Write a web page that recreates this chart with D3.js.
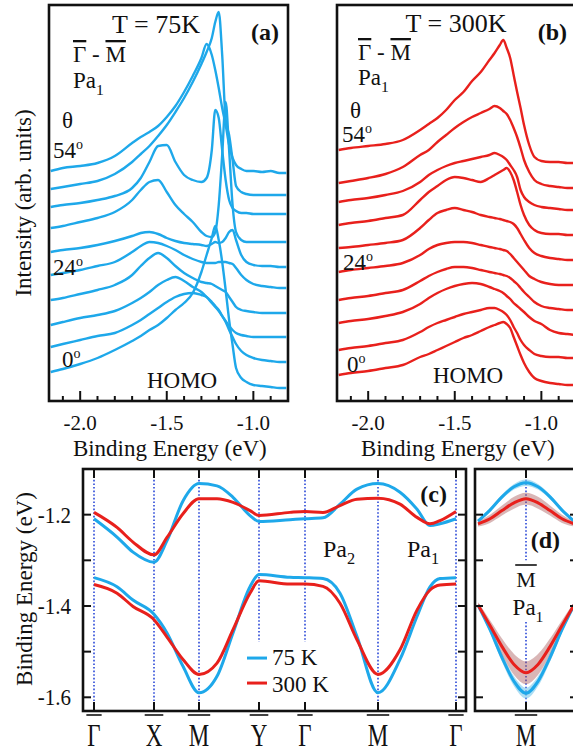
<!DOCTYPE html>
<html><head><meta charset="utf-8">
<script src="https://cdn.jsdelivr.net/npm/d3@7"></script>
<style>
body{margin:0;background:#fff;}
svg{display:block;}
svg text{font-family:"Liberation Serif","Times New Roman","DejaVu Serif",serif;fill:#111;}
</style></head><body>
<svg id="chart" width="573" height="755"></svg>
<script>
// ---------------- DATA ----------------
const energyGrid = [-2.17,-2.1,-2.0,-1.9,-1.8,-1.7,-1.65,-1.6,-1.55,-1.5,-1.45,-1.4,-1.35,-1.3,-1.27,-1.24,-1.22,-1.2,-1.18,-1.16,-1.14,-1.12,-1.1,-1.07,-1.04,-1.0,-0.95,-0.9,-0.85,-0.81];
const angles = [0,6,12,18,24,30,36,42,48,54];
// EDC intensities (arb. units, stacked offsets included), T = 75 K, one row per angle
const edc75K = [
 [28,31,36,42,50,59,64,70,75,82,90,97,107,128,145,162,174,160,138,110,80,55,32,22,18,15,14,13,12,12],
 [53,56,60,64,67,75,80,86,92,98,103,106,107,105,103,98,94,90,84,78,70,63,56,49,45,42,40,39,38,38],
 [75,78,82,85,89,97,102,108,115,120,123,119,113,108,103,97,93,89,84,79,74,70,67,65,64,63,63,63,63,63],
 [100,102,106,110,115,125,134,142,147,142,134,127,122,118,117,116,114,112,110,108,103,98,93,90,89,88,87,87,87,87],
 [125,127,130,134,138,148,154,158,157,154,150,145,141,138,137,137,137,138,138,138,137,136,132,125,120,116,114,113,112,112],
 [148,150,152,155,159,164,167,168,166,162,159,157,156,155,154,156,158,157,158,162,168,170,160,145,138,135,134,134,133,133],
 [172,174,178,182,188,200,210,218,220,208,195,186,178,168,164,163,168,195,245,298,250,195,168,160,158,158,158,158,158,158],
 [193,195,197,200,204,212,222,238,254,255,238,225,220,218,222,250,290,282,250,220,200,192,189,187,187,186,186,186,186,186],
 [211,213,216,219,226,238,246,254,264,275,288,302,318,336,348,362,378,388,345,280,265,240,214,208,206,205,205,205,205,205],
 [229,232,234,237,244,257,263,268,274,283,294,308,324,342,356,345,330,312,292,275,255,242,235,231,229,229,228,229,227,227]
];
// EDC intensities, T = 300 K
const edc300K = [
 [25,27,29,32,35,43,46,50,54,58,62,65,69,73,75,77,78,76,72,63,54,45,37,28,22,19,17,16,15,15],
 [50,52,54,57,60,68,73,77,80,83,86,88,90,92,92,90,88,85,80,73,67,60,55,50,46,44,43,43,42,42],
 [77,79,81,84,88,96,102,107,111,114,116,117,116,113,111,109,107,104,101,97,94,91,88,83,79,76,70,67,66,65],
 [100,102,104,107,110,119,124,128,131,133,133,132,130,128,127,126,125,124,122,119,116,112,108,103,98,94,92,91,90,90],
 [128,130,132,134,137,145,151,155,157,158,158,157,155,153,152,151,150,149,146,142,138,134,130,124,121,118,116,115,115,115],
 [152,153,155,157,160,172,180,187,190,192,190,188,185,183,182,181,180,179,178,176,172,166,160,152,147,144,142,141,140,140],
 [175,177,179,182,185,200,208,214,220,223,222,220,218,222,225,228,230,232,228,220,208,195,185,175,170,167,166,166,165,165],
 [198,200,202,205,209,218,225,230,234,237,239,241,243,245,247,245,243,240,235,230,223,210,203,198,195,193,192,191,190,190],
 [217,219,222,226,233,245,250,258,265,272,278,283,287,291,294,292,289,286,280,272,263,252,240,228,220,216,214,213,212,212],
 [250,252,254,256,260,270,276,282,290,300,308,319,328,340,347,355,360,352,342,325,308,292,275,255,243,239,238,238,237,237]
];
const energyMajorTicks = [-2.0,-1.5,-1.0];
const energyMinorTicks = [-2.1,-2.0,-1.9,-1.8,-1.7,-1.6,-1.5,-1.4,-1.3,-1.2,-1.1,-1.0,-0.9];

// band dispersion panel (c)
const kPointLabels = ["Γ","X","M","Y","Γ","M","Γ"];
const kPointPos = [0,0.60,1.05,1.65,2.11,2.84,3.62];
const kPath = [0,0.23,0.39,0.60,0.73,0.89,1.05,1.23,1.39,1.56,1.65,1.96,2.11,2.29,2.46,2.63,2.84,3.06,3.23,3.36,3.46,3.62];
const upper75K = [-1.209,-1.249,-1.282,-1.304,-1.257,-1.170,-1.132,-1.137,-1.162,-1.202,-1.215,-1.211,-1.209,-1.207,-1.177,-1.144,-1.132,-1.151,-1.188,-1.224,-1.220,-1.209];
const upper300K = [-1.195,-1.228,-1.260,-1.288,-1.250,-1.198,-1.165,-1.165,-1.173,-1.191,-1.202,-1.195,-1.193,-1.195,-1.180,-1.166,-1.164,-1.177,-1.206,-1.220,-1.213,-1.193];
const lower75K = [-1.338,-1.358,-1.387,-1.418,-1.459,-1.532,-1.590,-1.554,-1.459,-1.358,-1.331,-1.337,-1.338,-1.340,-1.372,-1.467,-1.590,-1.517,-1.423,-1.358,-1.340,-1.338];
const lower300K = [-1.353,-1.372,-1.401,-1.430,-1.468,-1.517,-1.550,-1.525,-1.452,-1.372,-1.345,-1.352,-1.352,-1.357,-1.394,-1.474,-1.550,-1.496,-1.409,-1.365,-1.354,-1.352];
const bindingTicks = [-1.6,-1.5,-1.4,-1.3,-1.2];
const bindingTickLabels = [-1.6,-1.4,-1.2];

// panel (d): fit around M with uncertainty
const kLocal = [-0.48,-0.36,-0.24,-0.12,0,0.12,0.24,0.36,0.48];
const dUpper75K = [-1.214,-1.190,-1.161,-1.139,-1.130,-1.139,-1.161,-1.190,-1.214];
const dUpper75KErr = [0.002,0.004,0.005,0.006,0.007,0.006,0.005,0.004,0.002];
const dUpper300K = [-1.220,-1.209,-1.191,-1.174,-1.165,-1.174,-1.191,-1.209,-1.220];
const dUpper300KErr = [0.006,0.009,0.011,0.013,0.013,0.013,0.011,0.009,0.006];
const dLower75K = [-1.398,-1.452,-1.513,-1.565,-1.591,-1.565,-1.513,-1.452,-1.398];
const dLower75KErr = [0.003,0.006,0.009,0.011,0.012,0.011,0.009,0.006,0.003];
const dLower300K = [-1.398,-1.443,-1.489,-1.528,-1.546,-1.528,-1.489,-1.443,-1.398];
const dLower300KErr = [0.006,0.012,0.018,0.023,0.025,0.023,0.018,0.012,0.006];

// ---------------- STYLE ----------------
const FONT = "Liberation Serif, Times New Roman, DejaVu Serif, serif";
const BLUE = "#1ea8ea", RED = "#e8201c", DOT = "#2a48d8";
const BLUE_BAND = "rgba(120,200,235,0.6)", RED_BAND = "rgba(165,80,80,0.42)";
const svg = d3.select("#chart");

function frame(x0,y0,x1,y1){
  svg.append("rect").attr("x",x0).attr("y",y0).attr("width",x1-x0).attr("height",y1-y0)
    .attr("fill","none").attr("stroke","#111").attr("stroke-width",2.6);
}
function txt(x,y,s,size,anchor,weight,sy){
  return svg.append("text").attr("transform",`translate(${x},${y}) scale(1,${sy||1})`)
    .attr("font-family",FONT).attr("font-size",size)
    .attr("text-anchor",anchor||"start").attr("font-weight",weight||"normal").text(s);
}
function degLabel(x,y,num){
  const t = txt(x,y,"",23,"start");
  t.append("tspan").text(num);
  t.append("tspan").attr("font-size",14).attr("dy",-9).text("o");
}
function gmLabel(x,y){
  const t = txt(x,y,"",23,"start");
  t.append("tspan").style("text-decoration","overline").text("Γ");
  t.append("tspan").text(" - ");
  t.append("tspan").style("text-decoration","overline").text("M");
}
function paLabel(x,y,sub,size,anchor){
  const t = txt(x,y,"",size||23,anchor||"start");
  t.append("tspan").text("Pa");
  t.append("tspan").attr("font-size",(size||23)*0.68).attr("dy",7).text(sub);
}
function barText(x,y,s,size,sy,gap){
  const t = txt(x,y,s,size,"middle",null,sy);
  const w = t.node().getComputedTextLength();
  svg.append("line").attr("x1",x-w/2-1).attr("x2",x+w/2+1).attr("y1",y-gap).attr("y2",y-gap)
    .attr("stroke","#111").attr("stroke-width",1.6);
}

// ---------------- PANELS (a) & (b) ----------------
function edcPanel(x0,x1,data,color,lbl,temp,L){
  const top=5, bottom=401;
  const x = d3.scaleLinear().domain([-2.18,-0.80]).range([x0,x1]);
  const y = d3.scaleLinear().domain([-1,395]).range([bottom,top]);
  const line = d3.line().x((d,i)=>x(energyGrid[i])).y(d=>y(d)).curve(d3.curveMonotoneX);
  data.forEach(row=>{
    svg.append("path").attr("d",line(row)).attr("fill","none").attr("stroke",color)
      .attr("stroke-width",2.4).attr("stroke-linejoin","round");
  });
  frame(x0,top,x1,bottom);
  energyMinorTicks.forEach(v=>{
    const major = energyMajorTicks.some(m=>Math.abs(m-v)<1e-6);
    svg.append("line").attr("x1",x(v)).attr("x2",x(v)).attr("y1",bottom).attr("y2",bottom-(major?10:5))
      .attr("stroke","#111").attr("stroke-width",2);
  });
  energyMajorTicks.forEach(v=>txt(x(v),430,v.toFixed(1),21,"middle"));
  txt(x(-1.5)+3,456,"Binding Energy (eV)",23,"middle");
  txt(x0+L.tx,L.ty,temp,26,"middle");
  txt(x0+230,40,lbl,24,"end","bold");
  gmLabel(x0+L.gx,L.gy);
  paLabel(x0+L.gx,L.py,"1");
  txt(x0+13,L.thy,"θ",23,"start");
  degLabel(x0+L.d54x,L.d54y,"54");
  degLabel(x0+L.d24x,L.d24y,"24");
  degLabel(x0+L.d0x,L.d0y,"0");
  txt(x(-1.40)+L.hx,L.hy,"HOMO",23,"middle");
}
edcPanel(49,288,edc75K,BLUE,"(a)","T = 75K",
  {tx:107,ty:33,gx:24,gy:62,py:88,thy:128,d54x:4,d54y:158,d24x:4,d24y:275,d0x:13,d0y:367,hx:-2,hy:388});
edcPanel(337,576,edc300K,RED,"(b)","T = 300K",
  {tx:119,ty:32,gx:21,gy:60,py:85,thy:118,d54x:5,d54y:142,d24x:6,d24y:270,d0x:10,d0y:372,hx:-4,hy:383});
svg.append("text").attr("transform","translate(31,203) rotate(-90)").attr("font-family",FONT).attr("font-size",23)
  .attr("text-anchor","middle").text("Intensity (arb. units)");

// ---------------- PANEL (c) ----------------
const cTop=469, cBottom=711, cL=83, cR=466;
const xc = d3.scaleLinear().domain([-0.11,3.72]).range([cL,cR]);
const yc = d3.scaleLinear().domain([-1.63,-1.10]).range([cBottom,cTop]);
const legendTop = yc(-1.479);
kPointPos.forEach((k,i)=>{
  const yEnd = (i===3||i===4) ? legendTop : cBottom;
  svg.append("line").attr("x1",xc(k)).attr("x2",xc(k)).attr("y1",cTop).attr("y2",yEnd)
    .attr("stroke",DOT).attr("stroke-width",1.6).attr("stroke-dasharray","1.6,2");
  [cTop,cBottom].forEach(yy=>{
    svg.append("line").attr("x1",xc(k)).attr("x2",xc(k)).attr("y1",yy).attr("y2",yy+(yy===cTop?9:-9))
      .attr("stroke","#111").attr("stroke-width",2);
  });
  barText(xc(k),746,kPointLabels[i],23,1.4,31);
});
const cLine = d3.line().x((d,i)=>xc(kPath[i])).y(d=>yc(d)).curve(d3.curveMonotoneX);
[[upper75K,BLUE],[lower75K,BLUE],[upper300K,RED],[lower300K,RED]].forEach(([arr,c])=>{
  svg.append("path").attr("d",cLine(arr)).attr("fill","none").attr("stroke",c).attr("stroke-width",3);
});
frame(cL,cTop,cR,cBottom);
bindingTicks.forEach(v=>{
  svg.append("line").attr("x1",cL).attr("x2",cL+8).attr("y1",yc(v)).attr("y2",yc(v)).attr("stroke","#111").attr("stroke-width",2);
  svg.append("line").attr("x1",cR).attr("x2",cR-8).attr("y1",yc(v)).attr("y2",yc(v)).attr("stroke","#111").attr("stroke-width",2);
});
bindingTickLabels.forEach(v=>txt(cL-12,yc(v)+8,v.toFixed(1),21,"end",null,1.12));
svg.append("text").attr("transform","translate(32,589) rotate(-90)").attr("font-family",FONT).attr("font-size",23)
  .attr("text-anchor","middle").text("Binding Energy (eV)");
txt(447,502,"(c)",24,"end","bold");
paLabel(323,557,"2",24);
paLabel(407,557,"1",24);
[["75 K",BLUE],["300 K",RED]].forEach(([s,c],i)=>{
  const yy = legendTop+16+i*25;
  svg.append("line").attr("x1",247).attr("x2",267).attr("y1",yy).attr("y2",yy).attr("stroke",c).attr("stroke-width",3);
  txt(272,yy+7+i*2,s,23,"start");
});

// ---------------- PANEL (d) ----------------
const dL=475, dR=578;
const xd = d3.scaleLinear().domain([-0.51,0.52]).range([dL,dR]);
const dLine = d3.line().x((d,i)=>xd(kLocal[i])).y(d=>yc(d)).curve(d3.curveMonotoneX);
const dArea = (c,e)=>d3.area().x((d,i)=>xd(kLocal[i])).y0((d,i)=>yc(c[i]-e[i])).y1((d,i)=>yc(c[i]+e[i])).curve(d3.curveMonotoneX)(c);
svg.append("line").attr("x1",xd(0)).attr("x2",xd(0)).attr("y1",cTop).attr("y2",yc(-1.30))
  .attr("stroke",DOT).attr("stroke-width",1.6).attr("stroke-dasharray","1.6,2");
svg.append("line").attr("x1",xd(0)).attr("x2",xd(0)).attr("y1",yc(-1.435)).attr("y2",cBottom)
  .attr("stroke",DOT).attr("stroke-width",1.6).attr("stroke-dasharray","1.6,2");
svg.append("path").attr("d",dArea(dUpper75K,dUpper75KErr)).attr("fill",BLUE_BAND);
svg.append("path").attr("d",dArea(dLower75K,dLower75KErr)).attr("fill",BLUE_BAND);
svg.append("path").attr("d",dArea(dUpper300K,dUpper300KErr)).attr("fill",RED_BAND);
svg.append("path").attr("d",dArea(dLower300K,dLower300KErr)).attr("fill",RED_BAND);
[[dUpper75K,BLUE],[dLower75K,BLUE],[dUpper300K,RED],[dLower300K,RED]].forEach(([arr,c])=>{
  svg.append("path").attr("d",dLine(arr)).attr("fill","none").attr("stroke",c).attr("stroke-width",3);
});
frame(dL,cTop,dR,cBottom);
bindingTicks.forEach(v=>{
  svg.append("line").attr("x1",dL).attr("x2",dL+8).attr("y1",yc(v)).attr("y2",yc(v)).attr("stroke","#111").attr("stroke-width",2);
  svg.append("line").attr("x1",dR).attr("x2",dR-8).attr("y1",yc(v)).attr("y2",yc(v)).attr("stroke","#111").attr("stroke-width",2);
});
[cTop,cBottom].forEach(yy=>{
  svg.append("line").attr("x1",xd(0)).attr("x2",xd(0)).attr("y1",yy).attr("y2",yy+(yy===cTop?9:-9))
    .attr("stroke","#111").attr("stroke-width",2);
});
txt(560,548,"(d)",24,"end","bold");
barText(xd(0),587,"M",22,1,22);
paLabel(xd(0)+2,615,"1",23,"middle");
barText(xd(0),746,"M",23,1.4,31);
</script>
</body></html>
